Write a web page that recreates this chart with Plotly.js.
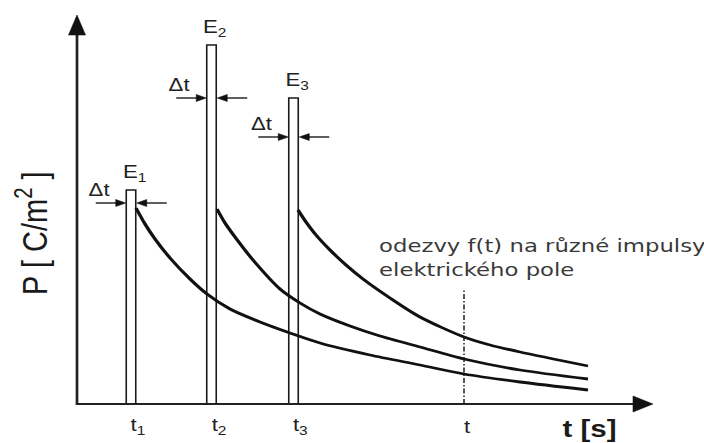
<!DOCTYPE html>
<html>
<head>
<meta charset="utf-8">
<script src="https://cdn.plot.ly/plotly-3.0.1.min.js"></script>
<style>
  html, body { margin: 0; padding: 0; background: #fff; overflow: hidden; }
  /* the drawing is laid out on a narrower canvas and widened horizontally */
  #chart { width: 572px; height: 443px; transform: scaleX(1.23077); transform-origin: 0 0; }
</style>
</head>
<body>
<div id="chart"></div>
<script>
// ---- data -------------------------------------------------------------
// electric field pulses: instants t_i, amplitudes E_i, common width Δt
const pulseTimes = [5.4, 13.45, 21.65];
const pulseAmplitudes = [21.4, 35.9, 30.6];
const pulseWidth = 0.95;
const pulseLabels = ['E<sub>1</sub>', 'E<sub>2</sub>', 'E<sub>3</sub>'];
const widthLabel = 'Δt';

// observation instant t
const observeTime = 38.7;
const tickLabels = ['t<sub>1</sub>', 't<sub>2</sub>', 't<sub>3</sub>', 't'];

// polarization responses f(t) after each pulse
const resp1T = [5.9, 6.8, 7.8, 9.3, 11.3, 13.0, 15.3, 18.3, 21.3, 24.3, 29.3, 34.3, 38.7, 44.3, 51.1];
const resp1P = [19.6, 18.0, 16.5, 14.6, 12.5, 11.0, 9.5, 8.2, 7.1, 6.1, 4.9, 3.9, 3.0, 2.2, 1.4];
const resp2T = [14.0, 14.8, 15.8, 17.6, 20.3, 22.3, 24.3, 27.3, 30.3, 34.3, 38.7, 44.3, 51.1];
const resp2P = [19.5, 18.1, 16.7, 14.4, 11.5, 10.1, 9.0, 7.8, 6.8, 5.7, 4.5, 3.4, 2.5];
const resp3T = [22.1, 22.9, 23.9, 25.3, 26.9, 28.6, 31.3, 34.3, 38.7, 41.3, 44.3, 51.1];
const resp3P = [19.4, 18.2, 16.9, 15.4, 13.9, 12.5, 10.6, 8.7, 6.7, 5.9, 5.2, 3.8];

const noteText = 'odezvy f(t) na různé impulsy<br>elektrického pole';
const xTitle = 't [s]';
const yTitle = 'P [ C/m<sup>2</sup> ]';

// ---- placement ---------------------------------------------------------
const dtArrowLevels = [20.1, 30.6, 26.7];
const xAxisEnd = 57.6;
const yAxisEnd = 38.9;
const observeLineTop = 11.4;

const INK = '#1a1a1a';
const LABEL_FONT = 'Liberation Sans, Arial, sans-serif';

// ---- traces ------------------------------------------------------------
const traces = [];

// arrow shafts and filled heads (head points along (dx, dy))
const shaftX = [], shaftY = [], headX = [], headY = [];
function addArrow(tipX, tipY, tailX, tailY, headLen, headHalf, target) {
  const dx = tipX - tailX, dy = tipY - tailY, n = Math.hypot(dx, dy);
  const ux = dx / n, uy = dy / n;
  const bx = tipX - ux * headLen, by = tipY - uy * headLen;
  target.x.push(tailX, bx + ux * 0.2, null);
  target.y.push(tailY, by + uy * 0.2, null);
  headX.push(tipX, bx - uy * headHalf, bx + uy * headHalf, tipX, null);
  headY.push(tipY, by + ux * headHalf, by - ux * headHalf, tipY, null);
}
const axisShaft = { x: [], y: [] };
const dtShaft = { x: [], y: [] };

// coordinate axes
addArrow(xAxisEnd, 0, -0.1, 0, 2.0, 0.8, axisShaft);
addArrow(0, yAxisEnd, 0, -0.1, 2.0, 0.85, axisShaft);

// Δt markers around each pulse
pulseTimes.forEach((t, i) => {
  const l = t - pulseWidth / 2, r = t + pulseWidth / 2, lev = dtArrowLevels[i];
  addArrow(l - 0.05, lev, l - 3.05, lev, 1.0, 0.35, dtShaft);
  addArrow(r + 0.1, lev, r + 3.1, lev, 1.0, 0.35, dtShaft);
});

traces.push({ x: axisShaft.x, y: axisShaft.y, mode: 'lines', line: { color: '#222', width: 2.2 }, hoverinfo: 'skip' });
traces.push({ x: dtShaft.x, y: dtShaft.y, mode: 'lines', line: { color: INK, width: 1.4 }, hoverinfo: 'skip' });
traces.push({ x: headX, y: headY, mode: 'lines', fill: 'toself', fillcolor: '#111',
  line: { color: '#111', width: 0.5 }, hoverinfo: 'skip' });

// pulse rectangles
const px = [], py = [];
pulseTimes.forEach((t, i) => {
  const l = t - pulseWidth / 2, r = t + pulseWidth / 2;
  px.push(l, l, r, r, null);
  py.push(0, pulseAmplitudes[i], pulseAmplitudes[i], 0, null);
});
traces.push({ x: px, y: py, mode: 'lines', line: { color: INK, width: 1.3 }, hoverinfo: 'skip' });

// decay responses
[[resp1T, resp1P], [resp2T, resp2P], [resp3T, resp3P]].forEach(([t, p]) => {
  traces.push({ x: t, y: p, mode: 'lines', line: { color: '#111', width: 2.8, shape: 'spline', smoothing: 0.8 }, hoverinfo: 'skip' });
});

// observation instant marker
traces.push({ x: [observeTime, observeTime], y: [0, observeLineTop], mode: 'lines',
  line: { color: INK, width: 1.2, dash: '5px,2px,1.5px,2px' }, hoverinfo: 'skip' });

// ---- text --------------------------------------------------------------
const ann = [];
const labelFont = { family: LABEL_FONT, size: 18, color: '#222' };

pulseTimes.forEach((t, i) => {
  const l = t - pulseWidth / 2, lev = dtArrowLevels[i];
  ann.push({ x: l - 2.75, y: lev + 1.3, text: widthLabel, font: labelFont, xanchor: 'center', yanchor: 'middle' });
  ann.push({ x: t + 0.35, y: pulseAmplitudes[i] + 1.67, text: pulseLabels[i], font: labelFont, xanchor: 'center', yanchor: 'middle' });
});

// time tick labels
[...pulseTimes, observeTime].forEach((t, i) => {
  ann.push({ x: t - 0.25, y: -2.25, text: tickLabels[i], font: labelFont, xanchor: 'left', yanchor: 'middle' });
});

// axis titles
ann.push({ x: 51.3, y: -2.45, text: xTitle,
  font: { family: LABEL_FONT, size: 24, color: '#1a1a1a', weight: 'bold' }, xanchor: 'center', yanchor: 'middle' });
ann.push({ x: -4.5, y: 17.1, text: yTitle, textangle: -90,
  font: { family: LABEL_FONT, size: 29, color: '#1a1a1a' }, xanchor: 'center', yanchor: 'middle' });

// explanatory note
ann.push({ x: 30.0, y: 14.65, text: noteText, align: 'left',
  font: { family: 'DejaVu Sans, sans-serif', size: 18.5, color: '#3a3a3a' }, xanchor: 'left', yanchor: 'middle' });

ann.forEach(a => { a.xref = 'x'; a.yref = 'y'; a.showarrow = false; });

const layout = {
  width: 572, height: 443,
  margin: { l: 0, r: 0, t: 0, b: 0, pad: 0 },
  paper_bgcolor: '#fff', plot_bgcolor: '#fff',
  showlegend: false,
  xaxis: { range: [-7.7, 62.7], visible: false, fixedrange: true },
  yaxis: { range: [-3.9, 40.4], visible: false, fixedrange: true },
  annotations: ann
};

Plotly.newPlot('chart', traces, layout, { staticPlot: true, displayModeBar: false });
</script>
</body>
</html>
